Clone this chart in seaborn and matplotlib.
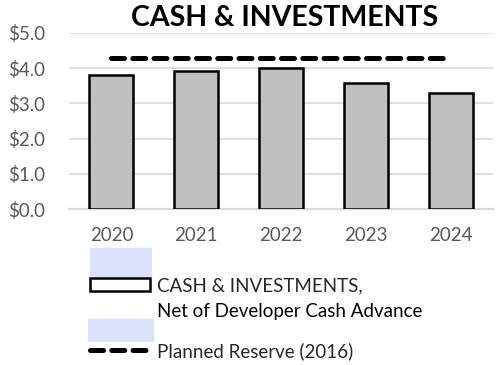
import matplotlib
matplotlib.use('Agg')
import matplotlib.pyplot as plt
import seaborn as sns
import pandas as pd
from matplotlib.patches import Patch, Rectangle
from matplotlib.lines import Line2D

# chart data
years = ['2020', '2021', '2022', '2023', '2024']
cash = [3.81, 3.91, 4.01, 3.58, 3.30]
planned_reserve = 4.28
y_ticks = [0, 1, 2, 3, 4, 5]
y_labels = ['$0.0', '$1.0', '$2.0', '$3.0', '$4.0', '$5.0']

df = pd.DataFrame({'year': years, 'cash': cash})

sns.set_style('white')
plt.rcParams['font.family'] = ['Lato', 'DejaVu Sans']

fig = plt.figure(figsize=(5, 3.65), dpi=100)
ax = fig.add_axes([0.138, 0.427, 0.848, 0.483])

sns.barplot(data=df, x='year', y='cash', color='#BFBFBF', saturation=1,
            width=0.52, edgecolor='black', linewidth=1.8, ax=ax, zorder=3)

dash = (0, (2.6, 1.65))
# planned reserve dashed line
ax.plot([0, 3.93], [planned_reserve] * 2, color='black', lw=3.6,
        ls=dash, dash_capstyle='round', zorder=4)

ax.set_xlim(-0.5, 4.5)
ax.set_ylim(0, 5)
ax.set_yticks(y_ticks)
ax.set_yticklabels(y_labels)
ax.set_xlabel('')
ax.set_ylabel('')
ax.grid(axis='y', color='#D9D9D9', lw=1.2, zorder=0)
ax.set_axisbelow(True)
for s in ['top', 'right', 'left']:
    ax.spines[s].set_visible(False)
ax.spines['bottom'].set_color('#D9D9D9')
ax.spines['bottom'].set_linewidth(1.6)
ax.tick_params(axis='both', length=0, labelsize=13.5, colors='#595959')
ax.tick_params(axis='y', pad=17)
ax.tick_params(axis='x', pad=13)

fig.text(0.57, 0.952, 'CASH & INVESTMENTS', ha='center', va='center',
         fontsize=20.5, fontweight='bold', color='black')

# light blue blocks seen behind the legend keys
fig.patches.append(Rectangle((90 / 500, 1 - 276 / 365), 61 / 500, 28 / 365,
                             transform=fig.transFigure, color='#DCE1FC', zorder=0))
fig.patches.append(Rectangle((88 / 500, 1 - 341 / 365), 65 / 500, 22 / 365,
                             transform=fig.transFigure, color='#DCE1FC', zorder=0))

handles = [Patch(facecolor='white', edgecolor='black', linewidth=1.8),
           Line2D([0], [0], color='black', lw=3.6, ls=dash, dash_capstyle='round')]
labels = ['CASH & INVESTMENTS,', 'Planned Reserve (2016)']
leg = fig.legend(handles, labels, loc='upper left', bbox_to_anchor=(0.18, 1 - 277 / 365),
                 frameon=False, fontsize=13.5, handlelength=3.2, handleheight=0.75,
                 handletextpad=0.35, labelspacing=2.56, borderpad=0, borderaxespad=0)
fig.text(157 / 500, 1 - 311 / 365, 'Net of Developer Cash Advance', ha='left',
         va='center', fontsize=13.5, color='black')

fig.savefig('out.png', dpi=100)
